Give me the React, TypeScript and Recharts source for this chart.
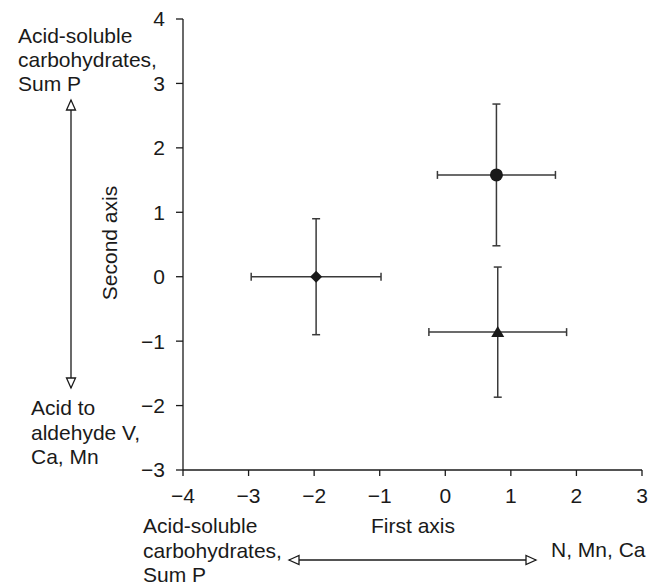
import React from "react";
import { ScatterChart, Scatter, XAxis, YAxis, ErrorBar } from "recharts";

// ordination scores (mean ± SD) for three groups
const diamondPts = [{ x: -1.97, y: 0.0, ex: 0.99, ey: 0.9 }];
const circlePts = [{ x: 0.78, y: 1.58, ex: 0.9, ey: 1.1 }];
const trianglePts = [{ x: 0.8, y: -0.86, ex: 1.05, ey: 1.01 }];

const xTicks = [-4, -3, -2, -1, 0, 1, 2, 3];
const yTicks = [-3, -2, -1, 0, 1, 2, 3, 4];

const ink = "#1a1a1a";
const barInk = "#3a3a3a";
const font = "'Liberation Sans', Arial, Helvetica, sans-serif";

const fmt = (v: number) => (v < 0 ? `\u2212${Math.abs(v)}` : `${v}`);

const Diamond = ({ cx, cy }: any) => (
  <polygon points={`${cx},${cy - 6} ${cx + 6},${cy} ${cx},${cy + 6} ${cx - 6},${cy}`} fill={ink} />
);
const Dot = ({ cx, cy }: any) => <circle cx={cx} cy={cy} r={6.5} fill={ink} />;
const Tri = ({ cx, cy }: any) => (
  <polygon points={`${cx},${cy - 6} ${cx + 6.5},${cy + 5} ${cx - 6.5},${cy + 5}`} fill={ink} />
);

const txt = { fontFamily: font, fontSize: 21, fill: ink };

function Arrow({ x1, y1, x2, y2 }: { x1: number; y1: number; x2: number; y2: number }) {
  const vertical = x1 === x2;
  const head = (tx: number, ty: number, dir: number) =>
    vertical
      ? `${tx},${ty} ${tx - 4.5},${ty + dir * 10} ${tx + 4.5},${ty + dir * 10}`
      : `${tx},${ty} ${tx + dir * 10},${ty - 4.5} ${tx + dir * 10},${ty + 4.5}`;
  return (
    <g stroke={ink} strokeWidth={1.3} fill="#fff">
      <line x1={x1} y1={y1} x2={x2} y2={y2} />
      <polygon points={head(x1, y1, 1)} />
      <polygon points={head(x2, y2, -1)} />
    </g>
  );
}

export default function App() {
  return (
    <div style={{ position: "relative", width: 664, height: 585, background: "#fff" }}>
      <style>{`body{margin:0}`}</style>
      <ScatterChart width={664} height={585} margin={{ top: 19, right: 22, left: 0, bottom: 0 }}>
        <XAxis
          type="number"
          dataKey="x"
          domain={[-4, 3]}
          ticks={xTicks}
          tickFormatter={fmt}
          height={115}
          tickSize={6}
          tickMargin={12}
          stroke={ink}
          strokeWidth={1.3}
          tick={{ fontFamily: font, fontSize: 21, fill: ink }}
        />
        <YAxis
          type="number"
          dataKey="y"
          domain={[-3, 4]}
          ticks={yTicks}
          tickFormatter={fmt}
          width={183}
          tickSize={7}
          tickMargin={11}
          stroke={ink}
          strokeWidth={1.3}
          tick={{ fontFamily: font, fontSize: 21, fill: ink }}
        />
        <Scatter data={diamondPts} shape={<Diamond />} isAnimationActive={false}>
          <ErrorBar dataKey="ex" direction="x" width={4} stroke={barInk} strokeWidth={1.5} />
          <ErrorBar dataKey="ey" direction="y" width={4} stroke={barInk} strokeWidth={1.5} />
        </Scatter>
        <Scatter data={circlePts} shape={<Dot />} isAnimationActive={false}>
          <ErrorBar dataKey="ex" direction="x" width={4} stroke={barInk} strokeWidth={1.5} />
          <ErrorBar dataKey="ey" direction="y" width={4} stroke={barInk} strokeWidth={1.5} />
        </Scatter>
        <Scatter data={trianglePts} shape={<Tri />} isAnimationActive={false}>
          <ErrorBar dataKey="ex" direction="x" width={4} stroke={barInk} strokeWidth={1.5} />
          <ErrorBar dataKey="ey" direction="y" width={4} stroke={barInk} strokeWidth={1.5} />
        </Scatter>
      </ScatterChart>

      <svg width={664} height={585} style={{ position: "absolute", left: 0, top: 0, pointerEvents: "none" }}>
        <text {...txt} x={18} y={43}>Acid-soluble</text>
        <text {...txt} x={18} y={67}>carbohydrates,</text>
        <text {...txt} x={18} y={91}>Sum P</text>
        <Arrow x1={71} y1={100} x2={71} y2={388} />
        <text {...txt} x={31} y={415}>Acid to</text>
        <text {...txt} x={31} y={439.5}>aldehyde V,</text>
        <text {...txt} x={31} y={464}>Ca, Mn</text>
        <text {...txt} x={117} y={243} textAnchor="middle" transform="rotate(-90 117 243)">Second axis</text>

        <text {...txt} x={413} y={533} textAnchor="middle">First axis</text>
        <text {...txt} x={143} y={533}>Acid-soluble</text>
        <text {...txt} x={143} y={558}>carbohydrates,</text>
        <text {...txt} x={143} y={582}>Sum P</text>
        <Arrow x1={289} y1={560} x2={536} y2={560} />
        <text {...txt} x={551} y={557}>N, Mn, Ca</text>
      </svg>
    </div>
  );
}
